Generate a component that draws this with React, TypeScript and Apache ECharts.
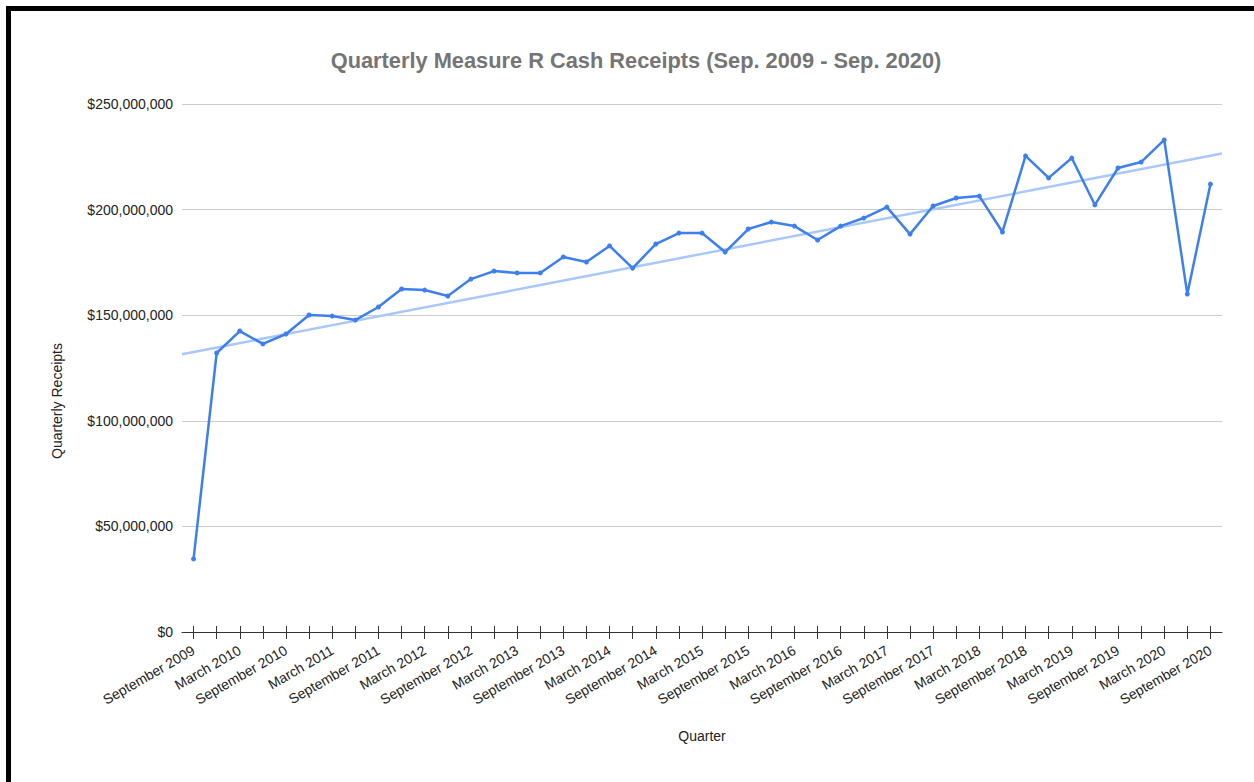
import React, { useEffect, useRef } from "react";
import * as echarts from "echarts";

const quarters: string[] = [
  "September 2009", "December 2009", "March 2010", "June 2010",
  "September 2010", "December 2010", "March 2011", "June 2011",
  "September 2011", "December 2011", "March 2012", "June 2012",
  "September 2012", "December 2012", "March 2013", "June 2013",
  "September 2013", "December 2013", "March 2014", "June 2014",
  "September 2014", "December 2014", "March 2015", "June 2015",
  "September 2015", "December 2015", "March 2016", "June 2016",
  "September 2016", "December 2016", "March 2017", "June 2017",
  "September 2017", "December 2017", "March 2018", "June 2018",
  "September 2018", "December 2018", "March 2019", "June 2019",
  "September 2019", "December 2019", "March 2020", "June 2020",
  "September 2020",
];

const receipts: number[] = [
  34600000, 132100000, 142500000, 136400000,
  141100000, 150100000, 149600000, 147700000,
  153900000, 162400000, 161900000, 159100000,
  167100000, 170900000, 170000000, 170000000,
  177600000, 175200000, 182800000, 172300000,
  183700000, 188900000, 188900000, 179900000,
  190800000, 194100000, 192200000, 185600000,
  192200000, 196000000, 201200000, 188400000,
  201700000, 205500000, 206400000, 189400000,
  225400000, 215000000, 224400000, 202200000,
  219700000, 222500000, 233000000, 160000000,
  212100000,
];

const yMin = 0;
const yMax = 250000000;
const yStep = 50000000;

const titleText = "Quarterly Measure R Cash Receipts (Sep. 2009 - Sep. 2020)";
const xName = "Quarter";
const yName = "Quarterly Receipts";

const FONT = '"Liberation Sans", Arial, sans-serif';

function linearFit(vals: number[]) {
  const n = vals.length;
  let sx = 0, sy = 0, sxx = 0, sxy = 0;
  vals.forEach((v, i) => {
    sx += i; sy += v; sxx += i * i; sxy += i * v;
  });
  const b = (n * sxy - sx * sy) / (n * sxx - sx * sx);
  const a = (sy - b * sx) / n;
  return { a, b };
}

function money(v: number) {
  return "$" + Math.round(v).toString().replace(/\B(?=(\d{3})+(?!\d))/g, ",");
}

export default function App() {
  const ref = useRef<HTMLDivElement>(null);

  useEffect(() => {
    if (!ref.current) return;
    const chart = echarts.init(ref.current, undefined, { renderer: "svg" });
    const W = 1254, H = 782;
    const gTop = 104, gBottom = 150, gLeft = 182, gRight = 32;
    const gH = H - gTop - gBottom;
    const { a, b } = linearFit(receipts);
    const x0 = -0.5, x1 = receipts.length - 0.5;

    chart.setOption({
      animation: false,
      backgroundColor: "#ffffff",
      textStyle: { fontFamily: FONT },
      grid: { left: gLeft, right: gRight, top: gTop, bottom: gBottom, containLabel: false },
      xAxis: [
        {
          type: "category",
          data: quarters,
          boundaryGap: true,
          position: "bottom",
          name: xName,
          nameLocation: "middle",
          nameGap: 97,
          nameTextStyle: { fontSize: 14, color: "#222", fontFamily: FONT },
          axisLine: { show: true, onZero: true, lineStyle: { color: "#333", width: 1 } },
          axisTick: { show: true, alignWithLabel: true, interval: 0, length: 7, lineStyle: { color: "#333" } },
          axisLabel: {
            interval: 1,
            rotate: 30,
            margin: 17,
            fontSize: 14,
            color: "#222",
            fontFamily: FONT,
          },
          splitLine: { show: false },
        },
        {
          type: "category",
          data: quarters,
          boundaryGap: true,
          position: "top",
          offset: -gH,
          axisLine: { show: false, onZero: false },
          axisTick: { show: true, alignWithLabel: true, interval: 0, length: 6, lineStyle: { color: "#333" } },
          axisLabel: { show: false },
          splitLine: { show: false },
        },
        {
          type: "value",
          min: x0,
          max: x1,
          show: false,
          axisLine: { onZero: false },
          splitLine: { show: false },
        },
      ],
      yAxis: {
        type: "value",
        min: yMin,
        max: yMax,
        interval: yStep,
        axisLine: { show: false },
        axisTick: { show: false },
        axisLabel: {
          formatter: (v: number) => money(v),
          fontSize: 14,
          color: "#222",
          margin: 9,
          fontFamily: FONT,
        },
        splitLine: { show: true, lineStyle: { color: "#cccccc", width: 1 } },
      },
      series: [
        {
          name: "Trend",
          type: "line",
          xAxisIndex: 2,
          data: [[x0, a + b * x0], [x1, a + b * x1]],
          showSymbol: false,
          symbol: "none",
          silent: true,
          lineStyle: { color: "#a8c7fa", width: 2.5 },
          z: 1,
        },
        {
          name: "Quarterly Receipts",
          type: "line",
          xAxisIndex: 0,
          data: receipts,
          symbol: "circle",
          symbolSize: 5,
          showSymbol: true,
          itemStyle: { color: "#3d7fef" },
          lineStyle: { color: "#3d7fef", width: 2.5 },
          z: 2,
        },
      ],
      graphic: [
        { type: "rect", left: 6, top: 6, shape: { width: W - 6, height: 5 }, style: { fill: "#000" }, silent: true },
        { type: "rect", left: 6, top: 6, shape: { width: 5, height: H - 6 }, style: { fill: "#000" }, silent: true },
        {
          type: "text",
          x: 636,
          y: 60,
          style: {
            text: titleText,
            fill: "#757575",
            font: `bold 21.8px ${FONT}`,
            textAlign: "center",
            textVerticalAlign: "middle",
          },
          silent: true,
        },
        {
          type: "text",
          x: 57,
          y: 401,
          rotation: Math.PI / 2,
          style: {
            text: yName,
            fill: "#222",
            font: `14px ${FONT}`,
            textAlign: "center",
            textVerticalAlign: "middle",
          },
          silent: true,
        },
      ],
    });

    return () => chart.dispose();
  }, []);

  return (
    <div
      ref={ref}
      style={{ position: "absolute", left: 0, top: 0, width: 1254, height: 782, background: "#fff" }}
    />
  );
}
